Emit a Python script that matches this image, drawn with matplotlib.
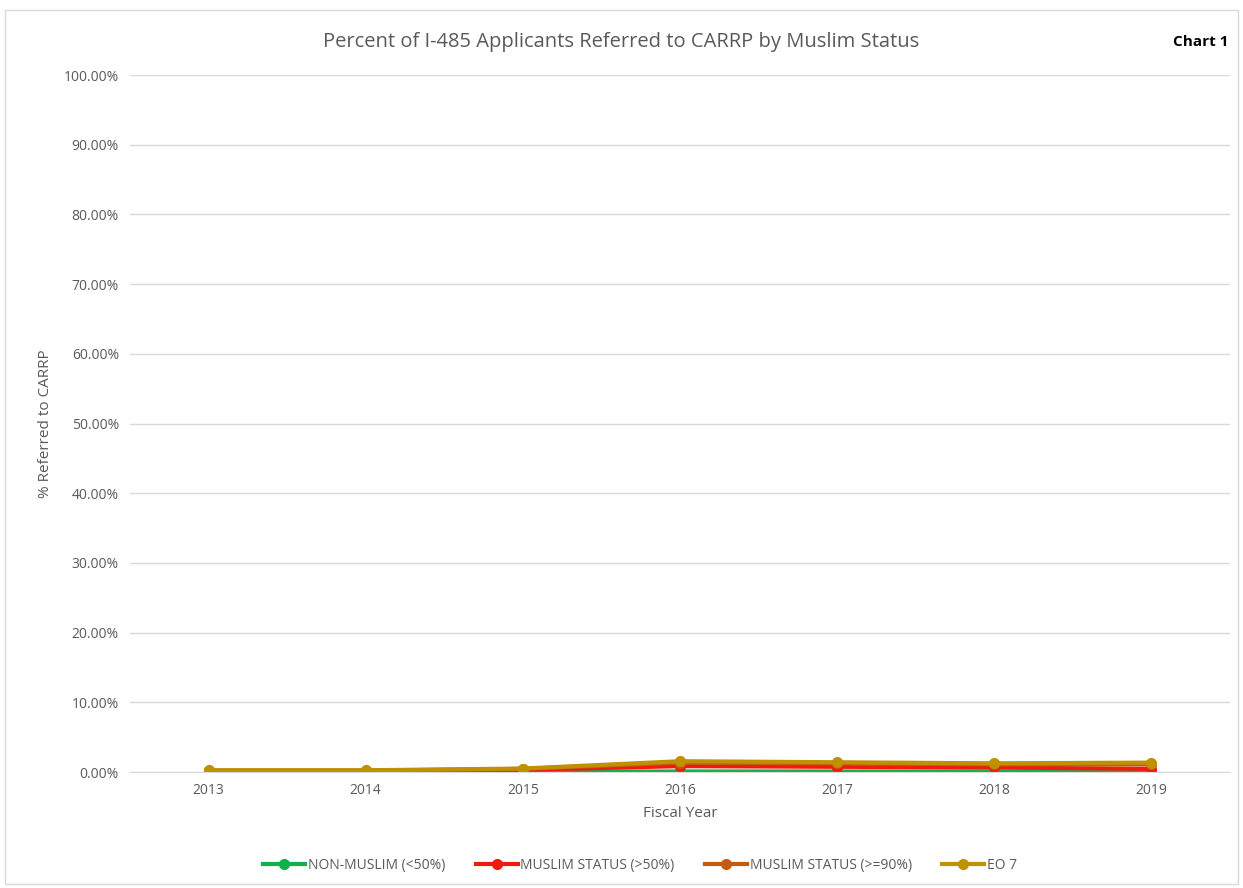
import matplotlib
matplotlib.use('Agg')
import matplotlib.pyplot as plt
from matplotlib.ticker import FuncFormatter, MultipleLocator
import numpy as np

plt.rcParams['font.family'] = ['Open Sans', 'DejaVu Sans']

# Dados
anos = ['2013', '2014', '2015', '2016', '2017', '2018', '2019']
non_muslim = [0.02, 0.02, 0.05, 0.08, 0.08, 0.08, 0.08]
muslim_50 = [0.10, 0.12, 0.30, 0.85, 0.75, 0.65, 0.45]
muslim_90 = [0.20, 0.20, 0.45, 1.35, 1.25, 1.10, 1.10]
eo7 = [0.25, 0.25, 0.50, 1.55, 1.40, 1.25, 1.35]

series = [
    ('NON-MUSLIM (<50%)', non_muslim, '#12B04A'),
    ('MUSLIM STATUS (>50%)', muslim_50, '#F21A0F'),
    ('MUSLIM STATUS (>=90%)', muslim_90, '#C55A11'),
    ('EO 7', eo7, '#BF9000'),
]

fig = plt.figure(figsize=(12.43, 8.88), dpi=100)
ax = fig.add_axes([0.1046, 0.1306, 0.8849, 0.7849])

x = np.arange(len(anos))
for nome, vals, cor in series:
    ax.plot(x, vals, color=cor, linewidth=3, marker='o', markersize=7, label=nome)

ax.set_xlim(-0.5, len(anos) - 0.5)
ax.set_ylim(0, 100)
ax.yaxis.set_major_locator(MultipleLocator(10))
ax.yaxis.set_major_formatter(FuncFormatter(lambda v, p: f'{v:.2f}%'))
ax.set_xticks(x, anos)

cinza = '#595959'
ax.tick_params(axis='both', length=0, labelsize=10, colors=cinza, pad=8)
ax.grid(axis='y', color='#D9D9D9', linewidth=1)
ax.set_axisbelow(True)
for lado in ['top', 'right', 'left']:
    ax.spines[lado].set_visible(False)
ax.spines['bottom'].set_color('#D9D9D9')

ax.set_xlabel('Fiscal Year', fontsize=11, color=cinza, labelpad=6)
ax.set_ylabel('% Referred to CARRP', fontsize=11, color=cinza, labelpad=8)

fig.text(0.5, 0.953, 'Percent of I-485 Applicants Referred to CARRP by Muslim Status',
         ha='center', va='center', fontsize=14.5, color=cinza)
fig.text(0.988, 0.953, 'Chart 1', ha='right', va='center', fontsize=11,
         color='black', fontweight='bold')

fig.legend(loc='center', bbox_to_anchor=(0.515, 0.025), ncol=4, frameon=False,
           fontsize=10, labelcolor=cinza, handlelength=3, columnspacing=2.2,
           handletextpad=0.2)

# Moldura do gráfico
borda = plt.Rectangle((0.004, 0.004), 0.992, 0.985, transform=fig.transFigure,
                      fill=False, edgecolor='#D9D9D9', linewidth=1)
fig.add_artist(borda)

fig.savefig('out.png', dpi=100, facecolor='white')
